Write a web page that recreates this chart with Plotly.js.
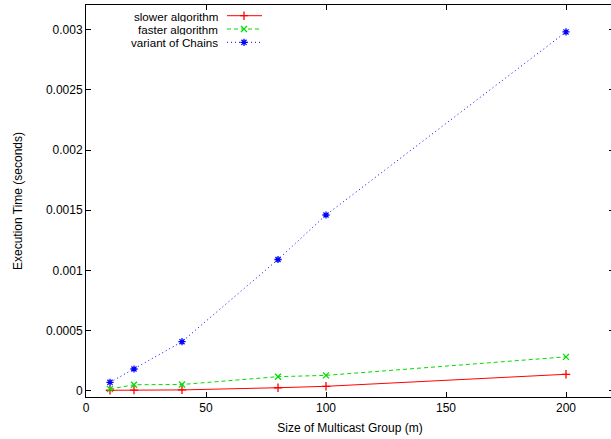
<!DOCTYPE html>
<html>
<head>
<meta charset="utf-8">
<script src="https://cdn.plot.ly/plotly-3.0.1.min.js"></script>
<style>
html,body{margin:0;padding:0;overflow:hidden;background:#fff;}
#chart{width:618px;height:439px;}
</style>
</head>
<body>
<div id="chart"></div>
<script>
// ---- data ----
var groupSizes = [10, 20, 40, 80, 100, 200];
var slowerAlgorithm = [0.000002, 0.000004, 0.000005, 0.000023, 0.000035, 0.000135];
var fasterAlgorithm = [0.000012, 0.000048, 0.000050, 0.000115, 0.000126, 0.000280];
var variantOfChains = [0.000068, 0.000179, 0.000406, 0.001090, 0.001460, 0.002983];
var seriesNames = ['slower algorithm', 'faster algorithm', 'variant of Chains'];
var xTitle = 'Size of Multicast Group (m)';
var yTitle = 'Execution Time (seconds)';

var FONT = 'Liberation Sans, Arial, Helvetica, sans-serif';
var FS = 12;
var colors = ['#ff0000', '#00dd00', '#0000ff'];
var dashes = ['solid', '4px,3px', '1px,3px'];
var symbols = ['cross-thin-open', 'x-thin-open', 'asterisk-open'];
var seriesY = [slowerAlgorithm, fasterAlgorithm, variantOfChains];

var traces = [];
for (var i = 0; i < 3; i++) {
  traces.push({
    x: groupSizes, y: seriesY[i], type: 'scatter', mode: 'lines+markers',
    name: seriesNames[i], showlegend: false,
    line: {color: colors[i], width: 1, dash: dashes[i]},
    marker: {symbol: symbols[i], size: 6, color: colors[i], line: {color: colors[i], width: 1.3}}
  });
}

// ---- custom gnuplot-style key (text right, sample on right) on an overlay pixel axis ----
var keyRows = [15.7, 29, 42.3];      // pixel rows of key entries
var keySample = [227, 262];          // pixel x span of the sample line
var keyMarkX = 244;                  // pixel x of the sample point
var keyText = 219;                   // right edge of key text
var annotations = [];
for (var k = 0; k < 3; k++) {
  traces.push({
    x: keySample, y: [keyRows[k], keyRows[k]], xaxis: 'x2', yaxis: 'y2',
    type: 'scatter', mode: 'lines', showlegend: false, hoverinfo: 'skip',
    line: {color: colors[k], width: 1, dash: dashes[k]}
  });
  traces.push({
    x: [keyMarkX], y: [keyRows[k]], xaxis: 'x2', yaxis: 'y2',
    type: 'scatter', mode: 'markers', showlegend: false, hoverinfo: 'skip',
    marker: {symbol: symbols[k], size: 6, color: colors[k], line: {color: colors[k], width: 1.3}}
  });
  annotations.push({
    xref: 'x2', yref: 'y2', x: keyText, y: keyRows[k], text: seriesNames[k],
    showarrow: false, xanchor: 'right', yanchor: 'middle', height: 12, valign: 'middle', borderpad: 0,
    font: {family: FONT, size: 11.6, color: '#000'}
  });
}

var layout = {
  width: 618, height: 439,
  margin: {l: 86, r: 4, t: 5, b: 42},
  paper_bgcolor: '#fff', plot_bgcolor: '#fff',
  font: {family: FONT, size: FS, color: '#000'},
  showlegend: false,
  xaxis: {
    range: [0, 220], dtick: 50, tick0: 0,
    ticks: 'inside', ticklen: 5, tickcolor: '#000', tickwidth: 1,
    showline: true, linecolor: '#000', linewidth: 1, mirror: 'ticks',
    showgrid: false, zeroline: false,
    tickfont: {family: FONT, size: FS, color: '#000'},
    title: {text: xTitle, font: {family: FONT, size: FS, color: '#000'}, standoff: 9},
    automargin: false
  },
  yaxis: {
    range: [-0.000054, 0.003207], dtick: 0.0005, tick0: 0, tickformat: '~g',
    ticks: 'inside', ticklen: 5, tickcolor: '#000', tickwidth: 1,
    showline: true, linecolor: '#000', linewidth: 1, mirror: 'ticks',
    showgrid: false, zeroline: false,
    tickfont: {family: FONT, size: FS, color: '#000'},
    title: {text: yTitle, font: {family: FONT, size: FS, color: '#000'}, standoff: 20},
    automargin: false
  },
  xaxis2: {overlaying: 'x', range: [86, 614], visible: false, fixedrange: true},
  yaxis2: {overlaying: 'y', range: [397, 5], visible: false, fixedrange: true},
  annotations: annotations
};

Plotly.newPlot('chart', traces, layout, {staticPlot: true, displayModeBar: false});
</script>
</body>
</html>
